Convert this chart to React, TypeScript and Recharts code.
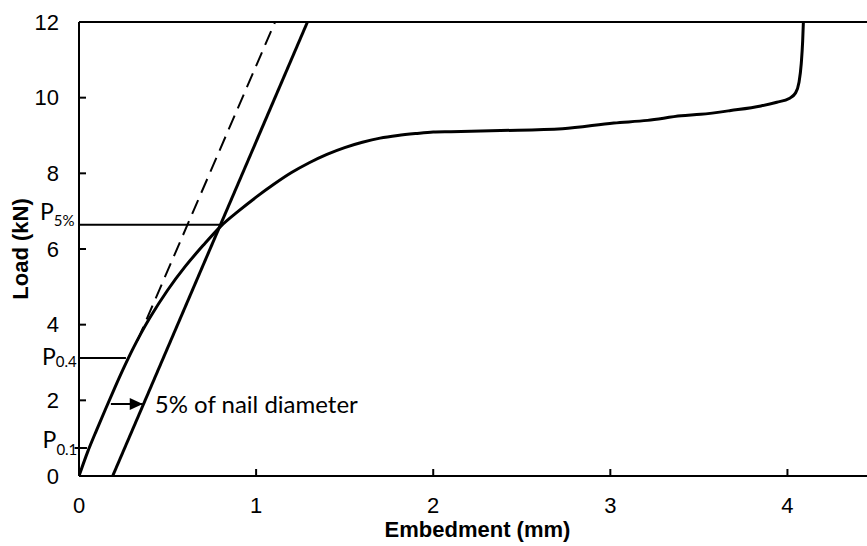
import React from 'react';
import { LineChart, Line, XAxis, YAxis, ReferenceLine, Label } from 'recharts';

// load-embedment curve (mm, kN)
const curveX = [0, 0.05, 0.1, 0.15, 0.2, 0.25, 0.3, 0.35, 0.4, 0.5, 0.6, 0.7, 0.8, 0.9, 1.0, 1.1, 1.2, 1.3, 1.4, 1.5, 1.6, 1.7, 1.8, 1.9, 2.0, 2.1, 2.38, 2.73, 3.02, 3.21, 3.4, 3.51, 3.68, 3.85, 3.94, 4.01, 4.045, 4.065, 4.078, 4.086, 4.09];
const curveY = [0, 0.65, 1.22, 1.77, 2.31, 2.83, 3.32, 3.77, 4.18, 4.91, 5.54, 6.09, 6.6, 7.0, 7.37, 7.71, 8.02, 8.28, 8.5, 8.68, 8.82, 8.93, 9.0, 9.05, 9.09, 9.1, 9.13, 9.18, 9.33, 9.4, 9.52, 9.56, 9.66, 9.78, 9.88, 9.98, 10.12, 10.4, 10.9, 11.5, 12];

// initial tangent (dashed) and the same line offset by 5% of nail diameter
const tangentX = [0.33, 1.107];
const tangentY = [3.58, 12];
const offsetX = [0.19, 1.29];
const offsetY = [0, 12];

// arrow between the two lines
const arrowX = [0.18, 0.36];
const arrowY = [1.9, 1.9];

const xTicks = [0, 1, 2, 3, 4];
const yTicks = [0, 2, 4, 6, 8, 10, 12];

const p5 = { y: 6.64, xEnd: 0.8 };
const p04 = { y: 3.12, xEnd: 0.265 };
const p01 = { y: 0.74, xStart: -0.025, xEnd: 0.045 };

const zip = (xs: number[], ys: number[]) => xs.map((x, i) => ({ x, y: ys[i] }));

const curve = zip(curveX, curveY);
const tangent = zip(tangentX, tangentY);
const offsetLine = zip(offsetX, offsetY);
const arrow = zip(arrowX, arrowY);

const annFont = 'Lato, "Open Sans", sans-serif';
const axisFont = '"Liberation Sans", Arial, sans-serif';

function pLabel(sub: string, dyP: number, dySub: number, left: number) {
    return (props: any) => {
        const vb = props.viewBox || {};
        return (
            <text x={vb.x - left} y={vb.y + dyP} fontFamily={annFont} fontSize={23} fill="#000">
                P
                <tspan fontSize={15} dy={dySub - dyP}>{sub}</tspan>
            </text>
        );
    };
}

const ArrowDot = (props: any) => {
    const { cx, cy, index } = props;
    if (index !== 1) return <g key={'a' + index} />;
    return (
        <g key={'a' + index}>
            <polygon points={`${cx},${cy} ${cx - 13},${cy - 6} ${cx - 13},${cy + 6}`} fill="#000" />
            <text x={cx + 12} y={cy + 9} fontFamily={annFont} fontSize={24} fill="#000">5% of nail diameter</text>
        </g>
    );
};

export default function App() {
    return (
        <div style={{ position: 'fixed', left: 0, top: 0, width: 867, height: 546, overflow: 'hidden', background: '#fff' }}>
            <LineChart width={876} height={546} margin={{ top: 22, right: 0, left: 0, bottom: 0 }}>
                <XAxis
                    dataKey="x"
                    type="number"
                    domain={[0, 4.5]}
                    ticks={xTicks}
                    allowDataOverflow
                    height={70}
                    tickSize={-7}
                    tickMargin={28}
                    axisLine={{ stroke: '#000', strokeWidth: 2 }}
                    tickLine={{ stroke: '#000', strokeWidth: 2 }}
                    tick={{ fill: '#000', fontSize: 22, fontFamily: axisFont }}
                >
                    <Label
                        value="Embedment (mm)"
                        position="insideBottom"
                        offset={9}
                        style={{ fontSize: 22, fontWeight: 'bold', fill: '#000', fontFamily: axisFont }}
                    />
                </XAxis>
                <YAxis
                    dataKey="y"
                    type="number"
                    domain={[0, 12]}
                    ticks={yTicks}
                    allowDataOverflow
                    width={79}
                    tickSize={-7}
                    tickMargin={27}
                    axisLine={{ stroke: '#000', strokeWidth: 2 }}
                    tickLine={{ stroke: '#000', strokeWidth: 2 }}
                    tick={{ fill: '#000', fontSize: 22, fontFamily: axisFont }}
                >
                    <Label
                        value="Load (kN)"
                        angle={-90}
                        position="insideLeft"
                        offset={20}
                        style={{ textAnchor: 'middle', fontSize: 22, fontWeight: 'bold', fill: '#000', fontFamily: axisFont }}
                    />
                </YAxis>

                <ReferenceLine y={12} stroke="#000" strokeWidth={2} />
                <ReferenceLine
                    segment={[{ x: 0, y: p5.y }, { x: p5.xEnd, y: p5.y }]}
                    stroke="#000"
                    strokeWidth={2}
                    label={pLabel('5%', -5, 1, 39)}
                />
                <ReferenceLine
                    segment={[{ x: 0, y: p04.y }, { x: p04.xEnd, y: p04.y }]}
                    stroke="#000"
                    strokeWidth={2}
                    label={pLabel('0.4', 7, 9, 37)}
                />
                <ReferenceLine
                    segment={[{ x: p01.xStart, y: p01.y }, { x: p01.xEnd, y: p01.y }]}
                    stroke="#000"
                    strokeWidth={2}
                    ifOverflow="visible"
                    label={pLabel('0.1', 0, 7, 32)}
                />

                <Line data={tangent} dataKey="y" type="linear" stroke="#000" strokeWidth={2} strokeDasharray="15 8" dot={false} isAnimationActive={false} />
                <Line data={offsetLine} dataKey="y" type="linear" stroke="#000" strokeWidth={3} dot={false} isAnimationActive={false} />
                <Line data={curve} dataKey="y" type="monotone" stroke="#000" strokeWidth={3} dot={false} isAnimationActive={false} />
                <Line data={arrow} dataKey="y" type="linear" stroke="#000" strokeWidth={2} dot={ArrowDot} activeDot={false} isAnimationActive={false} />
            </LineChart>
        </div>
    );
}
